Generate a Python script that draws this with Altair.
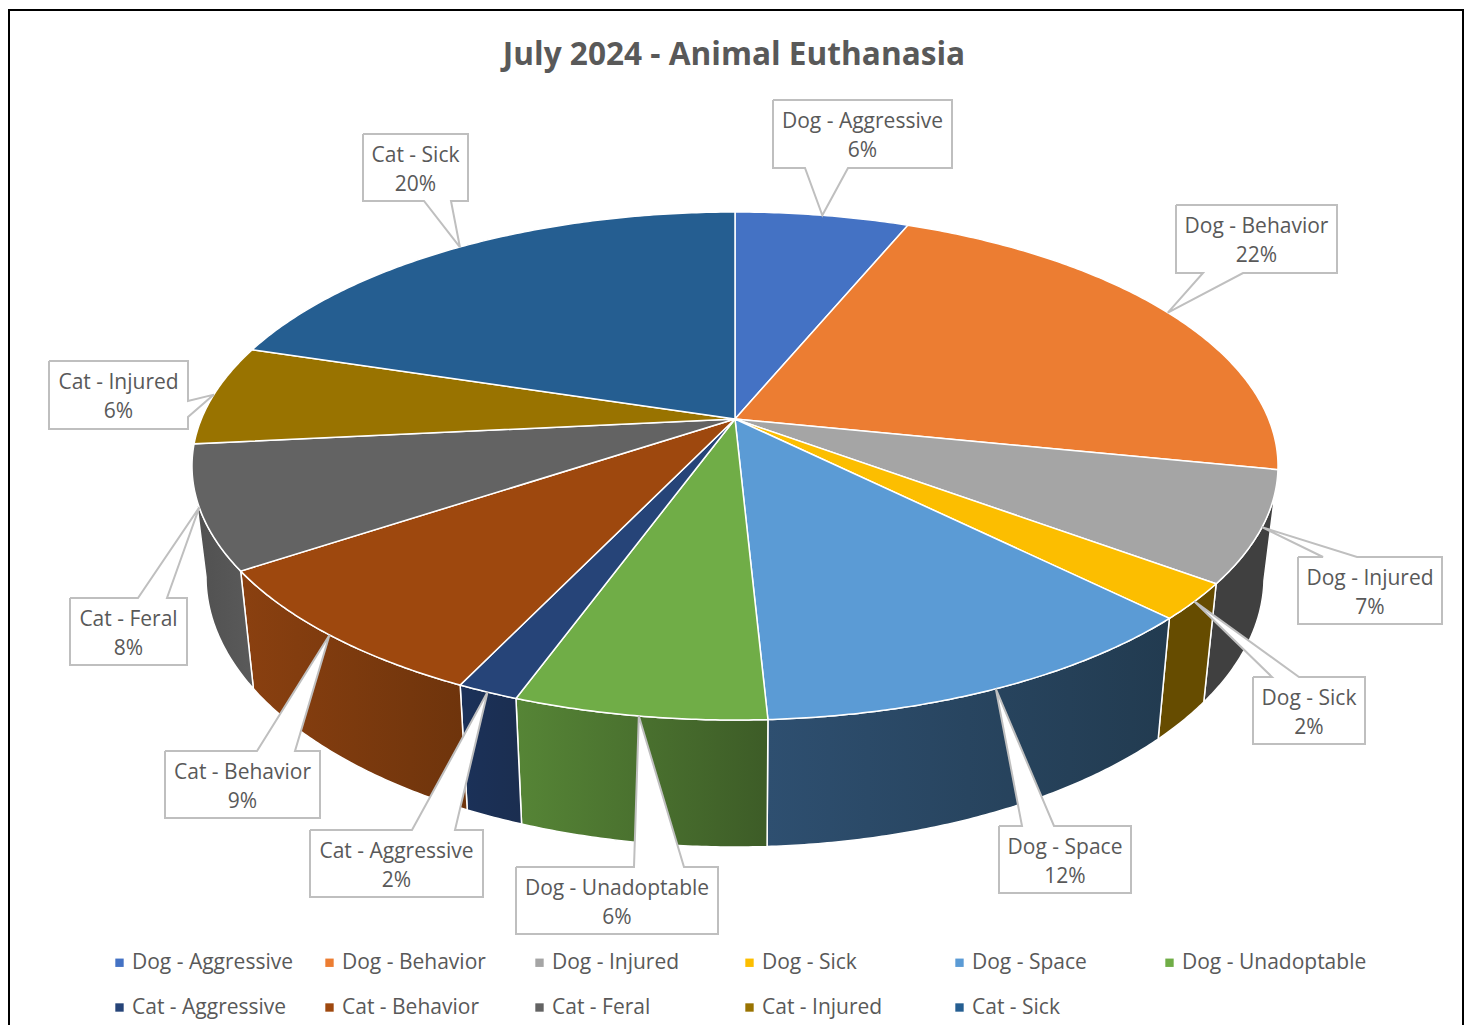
import math
import altair as alt
import pandas as pd

categories = ["Dog - Aggressive", "Dog - Behavior", "Dog - Injured", "Dog - Sick", "Dog - Space",
              "Dog - Unadoptable", "Cat - Aggressive", "Cat - Behavior", "Cat - Feral", "Cat - Injured", "Cat - Sick"]
shares = [6.2, 22.0, 7.0, 2.3, 11.7, 6.3, 1.55, 8.55, 7.8, 6.4, 20.2]
colors = ["#4472C4", "#EC7D32", "#A5A5A5", "#FCBE00", "#5B9BD5", "#70AD47",
          "#264478", "#9E480E", "#636363", "#997300", "#255E91"]
wall_left = {"Dog - Injured": "#404040", "Dog - Sick": "#664C00", "Dog - Space": "#2E4F70",
             "Dog - Unadoptable": "#568536", "Cat - Aggressive": "#1B3159", "Cat - Behavior": "#8A4010",
             "Cat - Feral": "#505050"}
wall_right = {"Dog - Injured": "#404040", "Dog - Sick": "#664C00", "Dog - Space": "#223B50",
              "Dog - Unadoptable": "#3D5C27", "Cat - Aggressive": "#1B2E50", "Cat - Behavior": "#6E340C",
              "Cat - Feral": "#5A5A5A"}

# callout boxes: left, right, top, bottom, side of pointer, pointer base a, b
callouts = {
    "Dog - Aggressive": (773, 952, 100, 168, "b", 805, 848),
    "Dog - Behavior": (1176, 1337, 205, 273, "b", 1203, 1243),
    "Dog - Injured": (1298, 1442, 557, 624, "t", 1323, 1357),
    "Dog - Sick": (1253, 1365, 677, 744, "t", 1272, 1299),
    "Dog - Space": (999, 1131, 826, 893, "t", 1022, 1054),
    "Dog - Unadoptable": (516, 718, 867, 934, "t", 634, 684),
    "Cat - Aggressive": (310, 483, 830, 897, "t", 412, 455),
    "Cat - Behavior": (165, 320, 751, 818, "t", 257, 295),
    "Cat - Feral": (70, 187, 598, 665, "t", 138, 167),
    "Cat - Injured": (49, 188, 361, 429, "r", 401, 417),
    "Cat - Sick": (363, 468, 134, 201, "b", 424, 451),
}

W, H = 1456, 1017
CX, CY0, RX, RY = 735, 466, 543, 254   # rim ellipse
BX, BY0, BRX, BRY = 735, 577, 529, 270  # base ellipse
HUB = (735, 419)
K = 0.8285  # perspective factor between true angle and rim angle


def rim_angle(share_cum):
    a = share_cum / 100 * 360
    if a >= 360:
        return 360.0
    if abs(a - 180) < 1e-9:
        return 180.0
    t = 2 * math.degrees(math.atan(K * math.tan(math.radians(a / 2))))
    return t if t >= 0 else t + 360


def rim(t):
    r = math.radians(t)
    return CX + RX * math.sin(r), CY0 - RY * math.cos(r)


def base(t):
    r = math.radians(t)
    return BX + BRX * math.sin(r), BY0 - BRY * math.cos(r)


def steps(t1, t2):
    n = max(2, int(abs(t2 - t1)) * 2)
    return [t1 + (t2 - t1) * i / n for i in range(n + 1)]


cum = [0]
for s in shares:
    cum.append(cum[-1] + s)
bounds = [rim_angle(c) for c in cum]
mids = [rim_angle((cum[i] + cum[i + 1]) / 2) for i in range(len(shares))]

top_rows, wall_layers, call_rows, text_rows = [], [], [], []
X = alt.X("x:Q", scale=alt.Scale(domain=[8, 8 + W], nice=False, zero=False), axis=None)
Y = alt.Y("y:Q", scale=alt.Scale(domain=[8 + H, 8], nice=False, zero=False), axis=None)

for i, name in enumerate(categories):
    t1, t2 = bounds[i], bounds[i + 1]
    pts = [HUB] + [rim(t) for t in steps(t1, t2)] + [HUB]
    for j, (x, y) in enumerate(pts):
        top_rows.append({"series": name, "x": x, "y": y, "k": j})
    if name in wall_left:
        a, b = max(t1, 90), min(t2, 270)
        wp = [rim(t) for t in steps(a, b)] + [base(t) for t in steps(b, a)]
        wp.append(wp[0])
        wdf = pd.DataFrame([{"x": x, "y": y, "k": j} for j, (x, y) in enumerate(wp)])
        grad = {"gradient": "linear", "x1": 0, "x2": 1, "y1": 0, "y2": 0,
                "stops": [{"offset": 0, "color": wall_left[name]}, {"offset": 1, "color": wall_right[name]}]}
        wall_layers.append(alt.Chart(wdf).mark_line(fill=grad, stroke="white", strokeWidth=1.5, interpolate="linear")
                           .encode(x=X, y=Y, order="k:Q"))
    l, r, tp, bt, side, p, q = callouts[name]
    tip = rim(mids[i])
    if side == "b":
        poly = [(l, tp), (r, tp), (r, bt), (q, bt), tip, (p, bt), (l, bt), (l, tp)]
    elif side == "t":
        poly = [(l, tp), (p, tp), tip, (q, tp), (r, tp), (r, bt), (l, bt), (l, tp)]
    else:
        poly = [(l, tp), (r, tp), (r, p), tip, (r, q), (r, bt), (l, bt), (l, tp)]
    for j, (x, y) in enumerate(poly):
        call_rows.append({"series": name, "x": x, "y": y, "k": j})
    text_rows.append({"x": (l + r) / 2, "y": tp + 22, "t": name})
    text_rows.append({"x": (l + r) / 2, "y": tp + 51, "t": f"{round(shares[i])}%"})

FONT = "Open Sans"
GREY = "#595959"

tops = alt.Chart(pd.DataFrame(top_rows)).mark_line(filled=True, stroke="white", strokeWidth=1.5, interpolate="linear").encode(
    x=X, y=Y, order="k:Q", detail="series:N",
    color=alt.Color("series:N", scale=alt.Scale(domain=categories, range=colors), legend=alt.Legend(
        title=None, orient="none", legendX=101, legendY=944, direction="horizontal", columns=6, gridAlign="all",
        columnPadding=2, rowPadding=23, padding=0, symbolType="square", symbolSize=70, symbolStrokeWidth=0,
        labelFont=FONT, labelFontSize=21, labelColor=GREY, labelOffset=2, labelLimit=300, symbolOffset=0,
    )),
)

calls = alt.Chart(pd.DataFrame(call_rows)).mark_line(fill="white", stroke="#BFBFBF", strokeWidth=2, interpolate="linear").encode(
    x=X, y=Y, order="k:Q", detail="series:N")

texts = alt.Chart(pd.DataFrame(text_rows)).mark_text(font=FONT, fontSize=21, color=GREY, align="center", baseline="middle").encode(
    x=X, y=Y, text="t:N")

title = alt.Chart(pd.DataFrame([{"x": 734, "y": 56, "t": "July 2024 - Animal Euthanasia"}])).mark_text(
    font=FONT, fontSize=31.6, fontWeight="bold", color=GREY, align="center", baseline="middle").encode(x=X, y=Y, text="t:N")

border = alt.Chart(pd.DataFrame([{"x": 9, "x2": 1463, "y": 10, "y2": 1060}])).mark_rect(
    fill="white", stroke="black", strokeWidth=2, clip=False).encode(x=X, x2="x2:Q", y=Y, y2="y2:Q")

chart = alt.layer(border, *wall_layers, tops, calls, texts, title).properties(
    width=W, height=H, padding=0, autosize=alt.AutoSizeParams(type="none"), background="white"
).configure_view(stroke=None)

chart.save("out.html", embed_options={"renderer": "svg", "actions": False})
